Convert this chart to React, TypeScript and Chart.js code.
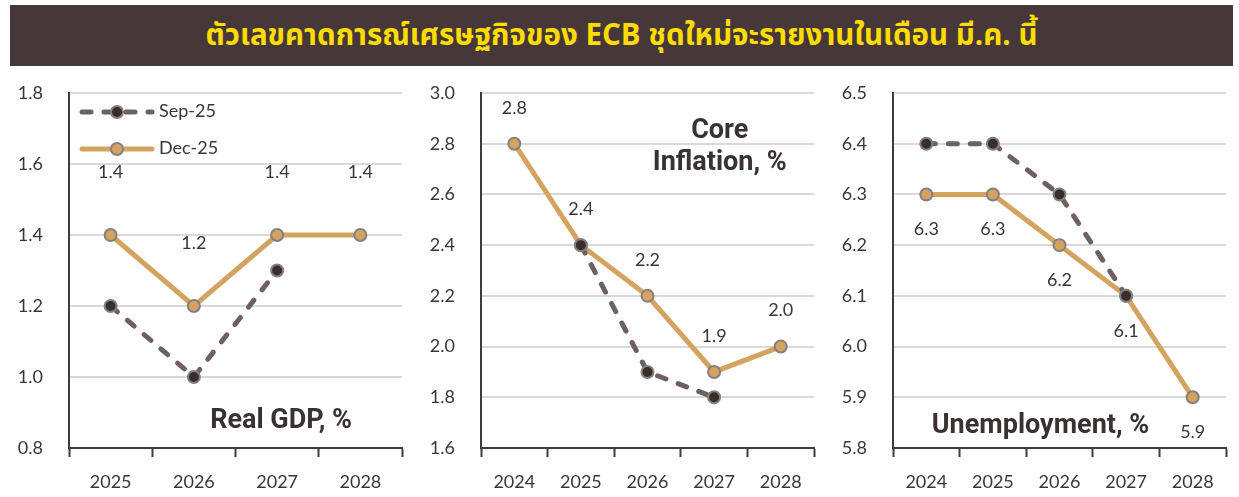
import React, { useEffect, useRef } from "react";
import { Chart, registerables } from "chart.js";

Chart.register(...registerables);

const TITLE = "ตัวเลขคาดการณ์เศรษฐกิจของ ECB ชุดใหม่จะรายงานในเดือน มี.ค. นี้";
const SERIES_NAMES = ["Sep-25", "Dec-25"];

const GDP_CATS = ["2025", "2026", "2027", "2028"];
const GDP_SEP = [1.2, 1.0, 1.3, null];
const GDP_DEC = [1.4, 1.2, 1.4, 1.4];

const INF_CATS = ["2024", "2025", "2026", "2027", "2028"];
const INF_SEP = [null, 2.4, 1.9, 1.8, null];
const INF_DEC = [2.8, 2.4, 2.2, 1.9, 2.0];

const UNE_CATS = ["2024", "2025", "2026", "2027", "2028"];
const UNE_SEP = [6.4, 6.4, 6.3, 6.1, null];
const UNE_DEC = [6.3, 6.3, 6.2, 6.1, 5.9];

const TEXT = "#3d3535";
const AXIS = "#3b3b45";
const GRID = "#d9d9d9";
const DEC_COLOR = "#d4a35f";
const SEP_COLOR = "#6e6060";
const FONT = "Lato, 'Open Sans', sans-serif";

type PanelProps = {
  left: number;
  cats: string[];
  sep: (number | null)[];
  dec: (number | null)[];
  min: number;
  max: number;
  step: number;
  labelOffset: number;
  titleLines: string[];
  titleX: number;
  titleY: number;
  legend: boolean;
};

const decorPlugin = {
  id: "decor",
  afterDatasetsDraw(chart: any, _args: any, opts: any) {
    const ctx = chart.ctx;
    const area = chart.chartArea;
    ctx.save();
    // data labels on Dec-25
    const meta = chart.getDatasetMeta(1);
    const values = chart.data.datasets[1].data;
    ctx.font = `18px ${FONT}`;
    ctx.fillStyle = TEXT;
    ctx.textAlign = "center";
    ctx.textBaseline = "middle";
    meta.data.forEach((el: any, i: number) => {
      const v = values[i];
      if (v == null) return;
      ctx.fillText(Number(v).toFixed(1), el.x, el.y - opts.labelOffset);
    });
    // panel title
    ctx.font = `bold 27px Roboto, sans-serif`;
    ctx.fillStyle = "#3a3232";
    const lines: string[] = opts.titleLines;
    const cx = area.left + (area.right - area.left) * opts.titleX;
    const cy = area.top + (area.bottom - area.top) * opts.titleY;
    lines.forEach((line, i) => {
      ctx.fillText(line, cx, cy + i * 32);
    });
    // legend
    if (opts.legend) {
      chart.data.datasets.forEach((ds: any, i: number) => {
        const y = area.top + 19 + i * 37;
        const x0 = area.left + 13;
        const x1 = area.left + 83;
        ctx.save();
        ctx.strokeStyle = ds.borderColor;
        ctx.lineWidth = ds.borderWidth;
        ctx.lineCap = "round";
        ctx.setLineDash(ds.borderDash || []);
        ctx.beginPath();
        ctx.moveTo(x0, y);
        ctx.lineTo(x1, y);
        ctx.stroke();
        ctx.setLineDash([]);
        ctx.beginPath();
        ctx.arc((x0 + x1) / 2, y, ds.pointRadius, 0, Math.PI * 2);
        ctx.fillStyle = ds.pointBackgroundColor;
        ctx.fill();
        ctx.lineWidth = ds.pointBorderWidth;
        ctx.strokeStyle = ds.pointBorderColor;
        ctx.stroke();
        ctx.restore();
        ctx.font = `18px ${FONT}`;
        ctx.fillStyle = TEXT;
        ctx.textAlign = "left";
        ctx.fillText(ds.label, area.left + 90, y - 1);
      });
    }
    ctx.restore();
  },
};

function Panel(p: PanelProps) {
  const ref = useRef<HTMLCanvasElement>(null);
  useEffect(() => {
    if (!ref.current) return;
    const chart = new Chart(ref.current, {
      type: "line",
      data: {
        labels: p.cats,
        datasets: [
          {
            label: SERIES_NAMES[0],
            data: p.sep,
            borderColor: SEP_COLOR,
            borderWidth: 5,
            borderDash: [9, 13],
            borderCapStyle: "round",
            pointRadius: 6,
            pointBackgroundColor: "#3a2e2a",
            pointBorderColor: "#858080",
            pointBorderWidth: 2,
            spanGaps: false,
            tension: 0,
          },
          {
            label: SERIES_NAMES[1],
            data: p.dec,
            borderColor: DEC_COLOR,
            borderWidth: 5,
            pointRadius: 6,
            pointBackgroundColor: DEC_COLOR,
            pointBorderColor: "#858080",
            pointBorderWidth: 2,
            tension: 0,
          },
        ],
      } as any,
      options: {
        responsive: false,
        animation: false,
        devicePixelRatio: 1,
        layout: { padding: { top: 27, right: 5, left: 0, bottom: 0 } },
        plugins: {
          legend: { display: false },
          tooltip: { enabled: false },
          decor: {
            labelOffset: p.labelOffset,
            titleLines: p.titleLines,
            titleX: p.titleX,
            titleY: p.titleY,
            legend: p.legend,
          },
        } as any,
        scales: {
          x: {
            offset: true,
            grid: {
              offset: true,
              drawOnChartArea: false,
              drawTicks: true,
              tickLength: 9,
              tickColor: AXIS,
              tickWidth: 2,
            },
            border: { display: true, color: AXIS, width: 2 },
            ticks: { color: TEXT, font: { family: FONT, size: 18 }, padding: 14, maxRotation: 0 },
            afterFit: (s: any) => {
              s.height = 49;
            },
          },
          y: {
            min: p.min,
            max: p.max,
            grid: { color: GRID, lineWidth: 2, drawTicks: false },
            border: { display: true, color: AXIS, width: 2 },
            ticks: {
              stepSize: p.step,
              color: TEXT,
              font: { family: FONT, size: 18 },
              padding: 26,
              callback: (v: any) => Number(v).toFixed(1),
            },
            afterFit: (s: any) => {
              s.width = 69;
              s.paddingTop = 11;
              s.paddingBottom = 11;
            },
          },
        } as any,
      },
      plugins: [decorPlugin],
    });
    return () => chart.destroy();
  }, []);
  return (
    <canvas
      ref={ref}
      width={410}
      height={431}
      style={{ position: "absolute", left: p.left, top: 66, width: 410, height: 431 }}
    />
  );
}

export default function App() {
  return (
    <div style={{ position: "absolute", left: 0, top: 0, width: 1239, height: 497, background: "#fff", overflow: "hidden" }}>
      <div
        style={{
          position: "absolute",
          left: 10,
          top: 5,
          width: 1223,
          height: 61,
          background: "#463838",
          color: "#ffdc00",
          display: "flex",
          alignItems: "center",
          justifyContent: "center",
          fontFamily: "'Noto Sans Thai', 'Noto Sans', sans-serif",
          fontWeight: 700,
          fontSize: 29.5,
        }}
      >
        {TITLE}
      </div>
      <Panel left={0} cats={GDP_CATS} sep={GDP_SEP} dec={GDP_DEC} min={0.8} max={1.8} step={0.2}
        labelOffset={63} titleLines={["Real GDP, %"]} titleX={0.637} titleY={0.924} legend={true} />
      <Panel left={412} cats={INF_CATS} sep={INF_SEP} dec={INF_DEC} min={1.6} max={3.0} step={0.2}
        labelOffset={36} titleLines={["Core", "Inflation, %"]} titleX={0.717} titleY={0.107} legend={false} />
      <Panel left={824} cats={UNE_CATS} sep={UNE_SEP} dec={UNE_DEC} min={5.8} max={6.5} step={0.1}
        labelOffset={-35} titleLines={["Unemployment, %"]} titleX={0.443} titleY={0.94} legend={false} />
    </div>
  );
}
